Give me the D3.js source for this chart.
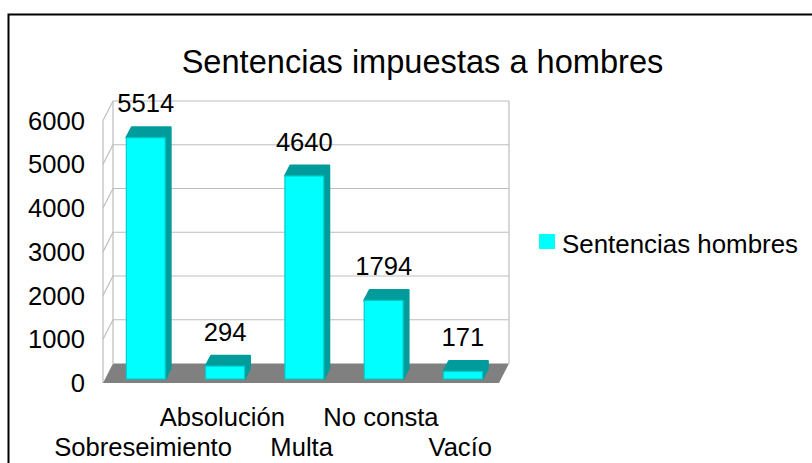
<!DOCTYPE html>
<html lang="es">
<head>
    <meta charset="UTF-8">
    <title>Sentencias impuestas a hombres</title>
    <script src="https://d3js.org/d3.v7.min.js"></script>
    <style>
        html, body { margin: 0; background: #fff; overflow: hidden; }
        svg { display: block; font-family: "Liberation Sans", Arial, sans-serif; fill: #000; }
    </style>
</head>
<body>
    <svg width="812" height="463"></svg>
    <script>
        const categories = ["Sobreseimiento", "Absolución", "Multa", "No consta", "Vacío"];
        const values = [5514, 294, 4640, 1794, 171];
        const yTicks = [0, 1000, 2000, 3000, 4000, 5000, 6000];
        const title = "Sentencias impuestas a hombres";
        const seriesName = "Sentencias hombres";

        const svg = d3.select("svg");
        const fontSize = 25.6;

        // front plane of the fake 3D box, the back wall is shifted from it
        const x = d3.scaleBand().domain(categories).range([105.4, 501.9]).paddingInner(0.51).paddingOuter(0.255);
        const y = d3.scaleLinear().domain([0, 6000]).range([383, 120.5]);
        const wall = {dx: 10, dy: -19.5};
        const barPlane = {dx: 0.7, dy: -4};
        const barDepth = {dx: 5.5, dy: -10.5};
        const left = 103, right = 499;

        // chart border (open at the bottom and right of the crop)
        svg.append("path")
            .attr("d", "M8.5,463V14.5H812")
            .attr("fill", "none")
            .attr("stroke", "#000")
            .attr("stroke-width", 2);

        svg.append("text")
            .attr("x", 422.5)
            .attr("y", 73)
            .attr("text-anchor", "middle")
            .style("font-size", "32.6px")
            .text(title);

        // walls
        const grid = "#bdbdbd";
        const back = svg.append("g").attr("fill", "none").attr("stroke", grid).attr("stroke-width", 1.2);
        back.selectAll(".grid")
            .data(yTicks.slice(1))
            .enter().append("path")
            .attr("class", "grid")
            .attr("d", d => `M${left},${y(d)}L${left + wall.dx},${y(d) + wall.dy}H${right + wall.dx}`);
        back.append("path").attr("d", `M${left},${y(0)}V${y(6000)}`);
        back.append("path").attr("d", `M${left + wall.dx},${y(0) + wall.dy}V${y(6000) + wall.dy}`);
        back.append("path").attr("d", `M${right + wall.dx},${y(0) + wall.dy}V${y(6000) + wall.dy}`);

        // floor
        svg.append("path")
            .attr("d", `M${left},${y(0)}L${left + wall.dx},${y(0) + wall.dy}H${right + wall.dx}L${right},${y(0)}Z`)
            .attr("fill", "#808080");

        // y axis
        const yAxis = svg.append("g")
            .attr("transform", `translate(${left},0)`)
            .call(d3.axisLeft(y).tickValues(yTicks).tickSize(0).tickPadding(18).tickFormat(d3.format("d")));
        yAxis.select(".domain").remove();
        yAxis.selectAll("text")
            .attr("fill", "#000")
            .attr("dy", "0.34em")
            .style("font-size", fontSize + "px")
            .style("font-family", "Liberation Sans");

        // bars
        const bars = svg.selectAll(".bar")
            .data(values)
            .enter().append("g")
            .attr("class", "bar")
            .attr("transform", (d, i) => `translate(${x(categories[i]) + barPlane.dx},${barPlane.dy})`);

        const bw = x.bandwidth();
        bars.append("path")
            .attr("d", d => `M0,${y(d)}L${barDepth.dx},${y(d) + barDepth.dy}H${bw + barDepth.dx}V${y(0) + barDepth.dy}L${bw},${y(0)}V${y(d)}Z`)
            .attr("fill", "#009c9c")
            .attr("stroke", "#009c9c")
            .attr("stroke-width", 2)
            .attr("stroke-linejoin", "round");
        bars.append("rect")
            .attr("y", d => y(d))
            .attr("width", bw)
            .attr("height", d => y(0) - y(d))
            .attr("fill", "#00ffff")
            .attr("stroke", "#00cccc")
            .attr("stroke-width", 1.2);

        // value labels
        bars.append("text")
            .attr("x", bw / 2)
            .attr("y", d => y(d) + barDepth.dy - 15)
            .attr("text-anchor", "middle")
            .style("font-size", fontSize + "px")
            .text(d => d);

        // staggered category labels
        svg.selectAll(".cat")
            .data(categories)
            .enter().append("text")
            .attr("class", "cat")
            .attr("x", d => x(d) + bw / 2 - 2)
            .attr("y", (d, i) => i % 2 ? 426 : 456)
            .attr("text-anchor", "middle")
            .style("font-size", fontSize + "px")
            .text(d => d);

        // legend
        svg.append("rect")
            .attr("x", 539).attr("y", 234)
            .attr("width", 16).attr("height", 15)
            .attr("fill", "#00ffff");
        svg.append("text")
            .attr("x", 562).attr("y", 253)
            .style("font-size", "25.9px")
            .text(seriesName);
    </script>
</body>
</html>
